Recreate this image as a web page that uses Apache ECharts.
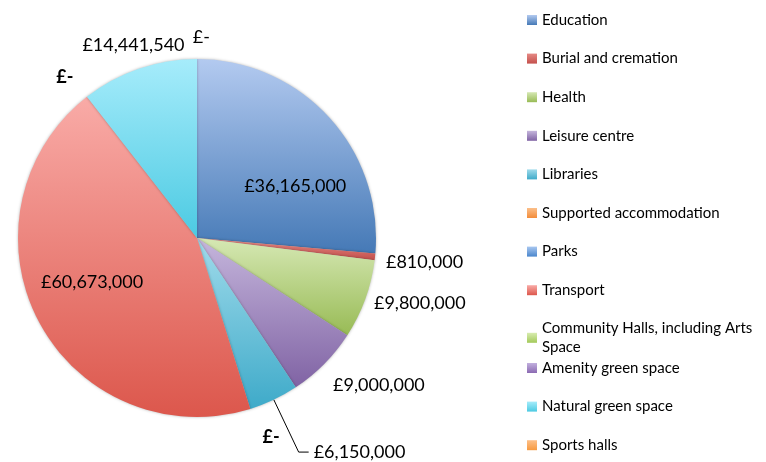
<!DOCTYPE html>
<html>
<head>
<meta charset="utf-8">
<script src="https://cdn.jsdelivr.net/npm/echarts@6/dist/echarts.min.js"></script>
<style>
  html, body { margin: 0; padding: 0; background: #fff; }
  #main { width: 766px; height: 462px; }
</style>
</head>
<body>
<div id="main"></div>
<script>
// categories and spend values
var categories = ['Education', 'Burial and cremation', 'Health', 'Leisure centre', 'Libraries',
  'Supported accommodation', 'Parks', 'Transport', 'Community Halls, including Arts Space',
  'Amenity green space', 'Natural green space', 'Sports halls']
var values = [36165000, 810000, 9800000, 9000000, 6150000, 0, 0, 60673000, 0, 0, 14441540, 0]

// top / bottom colours of each slice gradient
var colorTop = ['#b3caf0', '#e58a85', '#d6e8b4', '#c5b6dc', '#a0dbeb', '#fbbf8a',
  '#a8c7f0', '#f9aba7', '#d8ecb0', '#c2b0de', '#a6ecfb', '#fdc08a']
var colorBottom = ['#4579b6', '#c4504c', '#98bb55', '#8063a4', '#3eaac9', '#f38c3a',
  '#4a86cc', '#dc574c', '#a3c95a', '#8b6ab2', '#4ccae2', '#f79a40']

// which labels show; offsets used to nudge them like the original
var showLabel = [true, true, true, true, true, true, false, true, false, true, true, true]
var labelOffset = [[30, 11], [2, 5], [0, 3], [1, 18], [0, 0], [6, 24], [0, 0], [-23, 1], [0, 0], [-6, -16], [52, -20], [18, -18]]

function fmt(v) {
  if (!v) return '£-'
  return '£' + v.toLocaleString('en-GB')
}

var myChart = echarts.init(document.getElementById('main'))

var pieData = categories.map(function (name, i) {
  var item = {
    name: name,
    value: values[i],
    itemStyle: {
      color: new echarts.graphic.LinearGradient(0, 0, 0, 1, [
        { offset: 0, color: colorTop[i] },
        { offset: 1, color: colorBottom[i] }
      ])
    },
    label: { show: showLabel[i] }
  }
  if (i === 0 || i === 7) {
    item.label.position = 'inside'
  }
  if (values[i] === 0) {
    item.label.fontWeight = i === 11 ? 'normal' : 'bold'
  }
  if (i === 4) {
    // libraries label gets the leader line
    item.labelLine = { show: true, length: 58, length2: 10, lineStyle: { color: '#000', width: 1 } }
  }
  return item
})

// legend is split in two so the wrapped item doesn't push the rest down
var legendBase = {
  orient: 'vertical',
  left: 527,
  padding: 0,
  itemWidth: 10,
  itemHeight: 10,
  itemGap: 22.6,
  icon: 'rect',
  selectedMode: false,
  textStyle: {
    fontFamily: 'Lato',
    fontSize: 15,
    color: '#000',
    width: 222,
    height: 16,
    lineHeight: 19,
    overflow: 'break'
  }
}

myChart.setOption({
  animation: false,
  legend: [
    Object.assign({}, legendBase, { top: 12, data: categories.slice(0, 9) }),
    Object.assign({}, legendBase, { top: 360, data: categories.slice(9) })
  ],
  series: [
    {
      type: 'pie',
      center: [197, 238],
      radius: [0, 179],
      startAngle: 90,
      clockwise: true,
      avoidLabelOverlap: false,
      itemStyle: {
        shadowBlur: 3,
        shadowColor: 'rgba(0,0,0,0.3)'
      },
      label: {
        position: 'outside',
        fontFamily: 'Lato',
        fontSize: 18,
        color: '#000',
        formatter: function (p) { return fmt(p.value) }
      },
      labelLine: { show: false, length: 4, length2: 0 },
      labelLayout: function (p) {
        var o = labelOffset[p.dataIndex]
        return { dx: o[0], dy: o[1] }
      },
      data: pieData
    }
  ]
})
</script>
</body>
</html>
